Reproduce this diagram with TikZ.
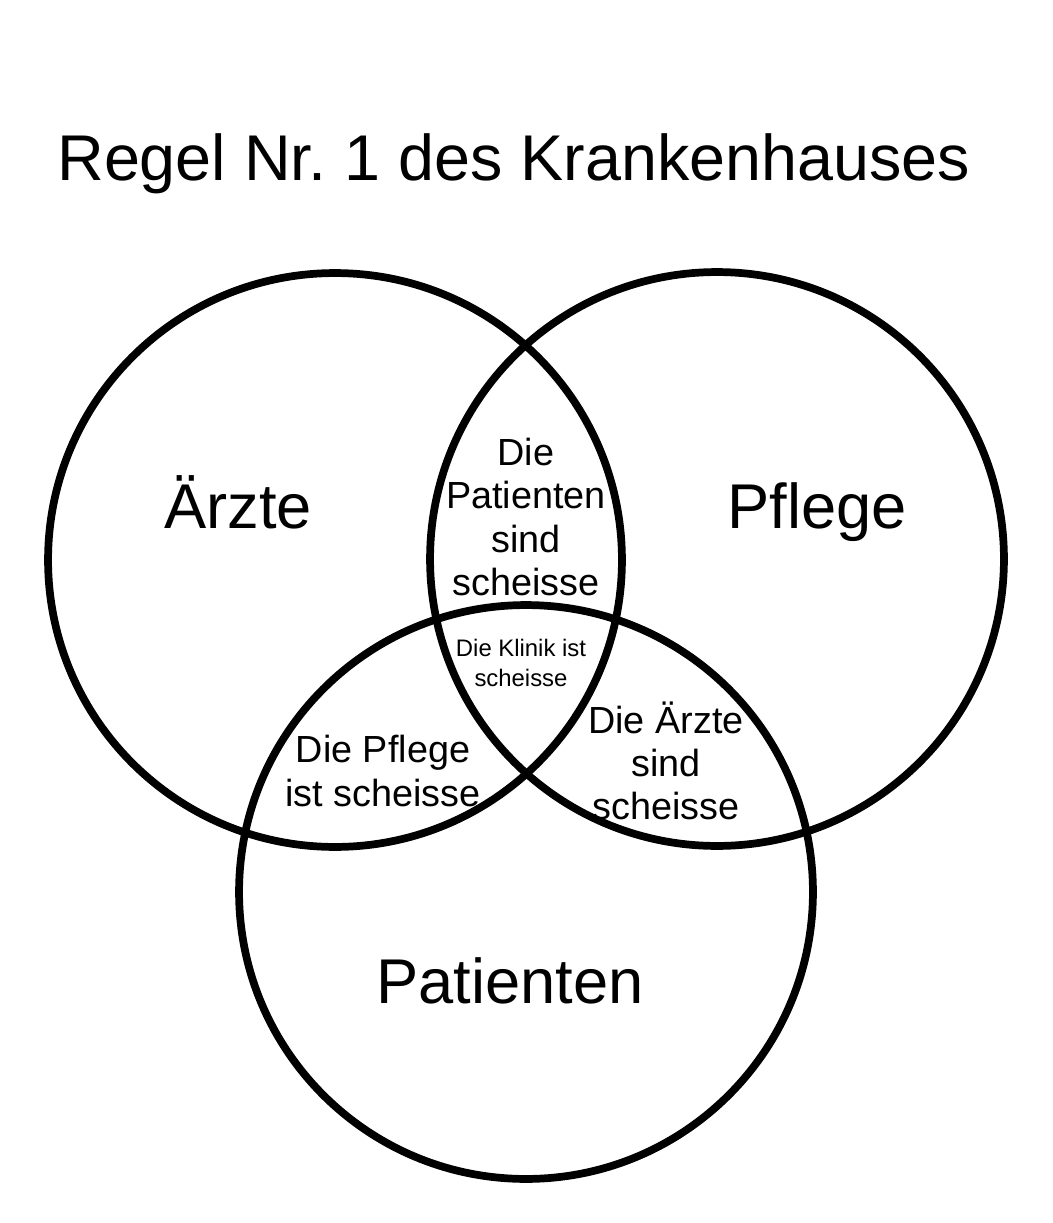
\documentclass[tikz,border=0pt]{standalone}
\usepackage{fontspec}
\setmainfont{Liberation Sans}
\frenchspacing

\begin{document}
\begin{tikzpicture}[x=0.02cm,y=-0.02cm,
    ring/.style={draw,line width=4.4pt},
    big/.style={anchor=base,inner sep=0pt,font=\fontsize{36}{40}\selectfont},
    mid/.style={align=center,inner sep=0pt,font=\fontsize{21.5}{24.6}\selectfont},
    small/.style={align=center,inner sep=0pt,font=\fontsize{13.6}{16.6}\selectfont}]
    \useasboundingbox (0,0) rectangle (1052,1223);
    % the three sets
    \draw[ring] (335,560) circle [radius=5.74cm];
    \draw[ring] (717,559) circle [radius=5.74cm];
    \draw[ring] (526,892) circle [radius=5.74cm];
    \node[anchor=base west,inner sep=0pt,font=\fontsize{36.8}{40}\selectfont] (t) at (57,181) {Regel Nr.\ 1 des Krankenhauses};
    \node[big] (a) at (238,528) {Ärzte};
    \node[big] (p) at (817,528) {Pflege};
    \node[big] (c) at (510,1003) {Patienten};
    % overlaps
    \node[mid] (ap) at (526,517) {Die\\Patienten\\sind\\scheisse};
    \node[mid] (ac) at (383,771) {Die Pflege\\ist scheisse};
    \node[mid] (pc) at (666,761) {Die Ärzte\\sind\\scheisse};
    \node[small] (apc) at (521,663) {Die Klinik ist\\scheisse};
\end{tikzpicture}
\end{document}
